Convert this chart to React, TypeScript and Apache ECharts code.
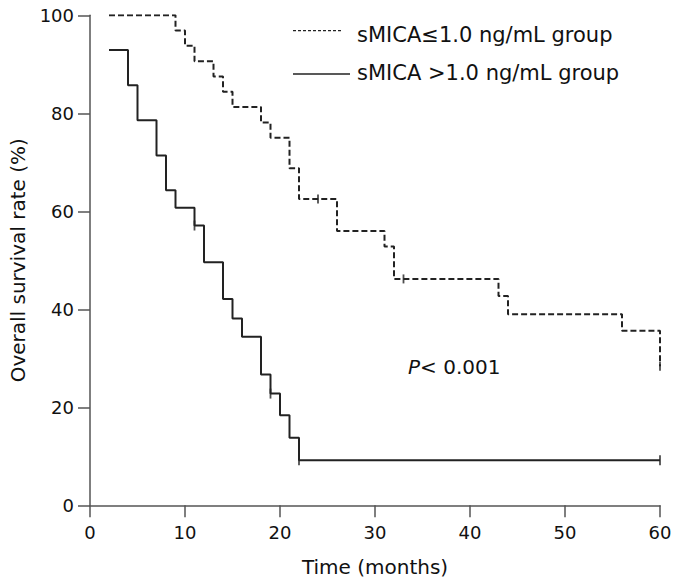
import React, { useEffect, useRef } from "react";
import * as echarts from "echarts";

// sMICA ≤ 1.0 ng/mL group (dashed)
const lowTimes = [2, 9, 10, 11, 13, 14, 15, 18, 19, 21, 22, 26, 31, 32, 43, 44, 56, 60];
const lowSurv = [100, 96.9, 93.8, 90.6, 87.5, 84.4, 81.3, 78.1, 75.0, 68.8, 62.5, 56.0, 52.8, 46.2, 42.7, 39.0, 35.6, 28.4];
const lowCensorTimes = [24, 33, 60];
const lowCensorSurv = [62.5, 46.2, 28.4];

// sMICA > 1.0 ng/mL group (solid)
const highTimes = [2, 4, 5, 7, 8, 9, 11, 12, 14, 15, 16, 18, 19, 20, 21, 22, 60];
const highSurv = [92.9, 85.7, 78.6, 71.4, 64.3, 60.7, 57.1, 49.6, 42.1, 38.1, 34.4, 26.7, 22.8, 18.4, 13.8, 9.2, 9.2];
const highCensorTimes = [11, 19, 22, 60];
const highCensorSurv = [57.1, 22.8, 9.2, 9.2];

const legendLabels = ["sMICA≤1.0 ng/mL group", "sMICA >1.0 ng/mL group"];
const xTicks = [0, 10, 20, 30, 40, 50, 60];
const yTicks = [0, 20, 40, 60, 80, 100];

const FONT = "DejaVu Sans";
const LINE = "#222";
const AXIS = "#555";

export default function App() {
  const ref = useRef<HTMLDivElement>(null);
  useEffect(() => {
    if (!ref.current) return;
    const chart = echarts.init(ref.current, null, { renderer: "svg" });
    const zip = (a: number[], b: number[]) => a.map((t, i) => [t, b[i]]);
    chart.setOption({
      animation: false,
      backgroundColor: "#fff",
      grid: { left: 88, right: 18, top: 15.3, bottom: 79.7 },
      xAxis: {
        type: "value",
        min: xTicks[0],
        max: xTicks[xTicks.length - 1],
        interval: 10,
        name: "Time (months)",
        nameLocation: "middle",
        nameGap: 52,
        nameTextStyle: { fontFamily: FONT, fontSize: 20, color: "#111" },
        axisLine: { lineStyle: { color: AXIS, width: 1.5 } },
        axisTick: { length: 12, lineStyle: { color: AXIS, width: 1.5 } },
        axisLabel: { fontFamily: FONT, fontSize: 18, color: "#111", margin: 18 },
        splitLine: { show: false },
      },
      yAxis: {
        type: "value",
        min: yTicks[0],
        max: yTicks[yTicks.length - 1],
        interval: 20,
        name: "Overall survival rate (%)",
        nameLocation: "middle",
        nameGap: 62,
        nameTextStyle: { fontFamily: FONT, fontSize: 20, color: "#111" },
        axisLine: { show: true, lineStyle: { color: AXIS, width: 1.5 } },
        axisTick: { show: true, length: 12, lineStyle: { color: AXIS, width: 1.5 } },
        axisLabel: { fontFamily: FONT, fontSize: 18, color: "#111", margin: 16 },
        splitLine: { show: false },
      },
      series: [
        {
          name: legendLabels[0],
          type: "line",
          step: "end",
          showSymbol: false,
          data: zip(lowTimes, lowSurv),
          lineStyle: { color: LINE, width: 2, type: [6, 3] },
        },
        {
          name: legendLabels[1],
          type: "line",
          step: "end",
          showSymbol: false,
          data: zip(highTimes, highSurv),
          lineStyle: { color: LINE, width: 2, type: "solid" },
        },
        {
          type: "scatter",
          symbol: "rect",
          symbolSize: [1.8, 9],
          itemStyle: { color: LINE },
          data: zip(lowCensorTimes, lowCensorSurv),
        },
        {
          type: "scatter",
          symbol: "rect",
          symbolSize: [1.8, 10],
          itemStyle: { color: LINE },
          data: zip(highCensorTimes, highCensorSurv),
        },
      ],
      graphic: [
        {
          type: "line",
          shape: { x1: 293, y1: 30.7, x2: 342, y2: 30.7 },
          style: { stroke: LINE, lineWidth: 1.3, lineDash: [3, 2] },
        },
        {
          type: "line",
          shape: { x1: 293, y1: 74, x2: 350, y2: 74 },
          style: { stroke: LINE, lineWidth: 1.5 },
        },
        {
          type: "text",
          x: 357,
          y: 35,
          style: {
            text: legendLabels[0],
            fontFamily: FONT,
            fontSize: 21,
            fill: "#111",
            textVerticalAlign: "middle",
            verticalAlign: "middle",
          },
        },
        {
          type: "text",
          x: 357,
          y: 73,
          style: {
            text: legendLabels[1],
            fontFamily: FONT,
            fontSize: 21,
            fill: "#111",
            textVerticalAlign: "middle",
            verticalAlign: "middle",
          },
        },
        {
          type: "text",
          x: 408,
          y: 367,
          style: {
            text: "{i|P}< 0.001",
            fontFamily: FONT,
            fontSize: 20,
            fill: "#111",
            textVerticalAlign: "middle",
            verticalAlign: "middle",
            rich: {
              i: { fontFamily: FONT, fontSize: 20, fontStyle: "italic", fill: "#111" },
            },
          },
        },
      ],
    });
    return () => chart.dispose();
  }, []);
  return (
    <div
      ref={ref}
      style={{ position: "fixed", left: 0, top: 0, width: 678, height: 585, background: "#fff" }}
    />
  );
}
